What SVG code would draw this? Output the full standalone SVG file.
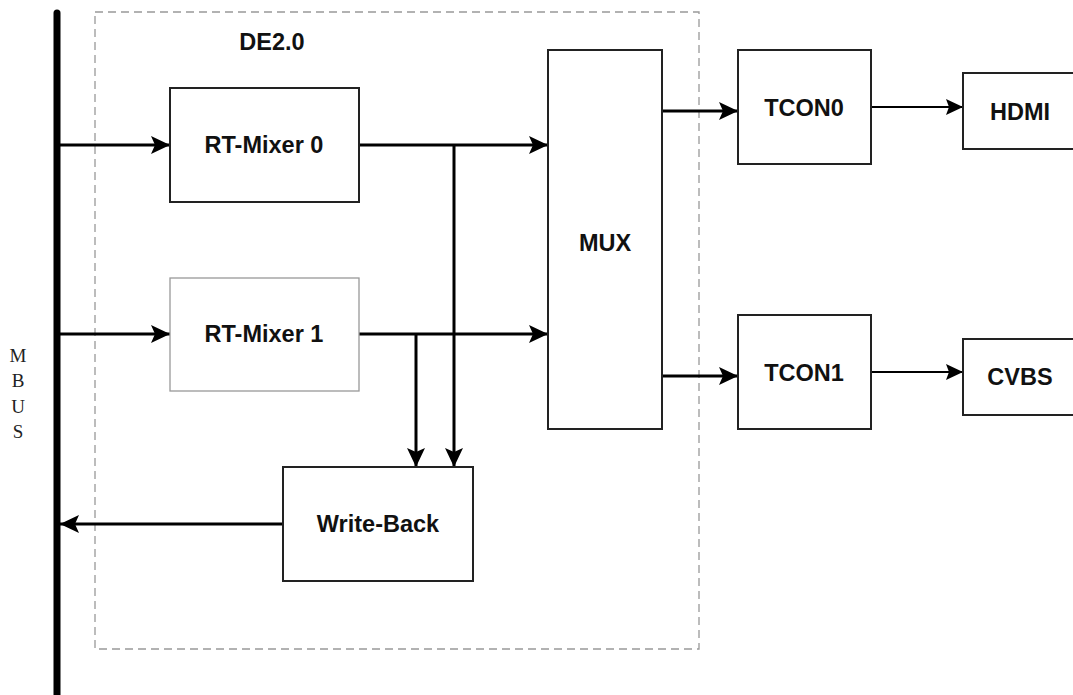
<svg xmlns="http://www.w3.org/2000/svg" width="1073" height="695" viewBox="0 0 1073 695">
<style>
.box{fill:#fff;stroke:#222;stroke-width:2}
.box2{fill:#fff;stroke:#999;stroke-width:1.3}
.lbl{font-family:"Liberation Sans",Arial,sans-serif;font-weight:bold;font-size:23.5px;fill:#111;text-anchor:middle}
.ser{font-family:"Liberation Serif","Times New Roman",serif;font-size:19px;fill:#222;text-anchor:middle}
.ln{fill:none;stroke:#000;stroke-width:3}
.ln2{fill:none;stroke:#000;stroke-width:2}
</style>
<defs>
<marker id="ah" viewBox="0 0 19 18" refX="19" refY="9" markerWidth="19" markerHeight="18" markerUnits="userSpaceOnUse" orient="auto">
<path d="M0,0 L19,9 L0,18 L4,9 Z" fill="#000"/>
</marker>
<marker id="ah2" viewBox="0 0 17 16" refX="17" refY="8" markerWidth="17" markerHeight="16" markerUnits="userSpaceOnUse" orient="auto">
<path d="M0,0 L17,8 L0,16 L3,8 Z" fill="#000"/>
</marker>
</defs>
<rect width="1073" height="695" fill="#fff"/>
<g id="mbus">
<line x1="57" y1="13" x2="57" y2="695" stroke="#000" stroke-width="7" stroke-linecap="round"/>
<text class="ser" x="18" y="362">M</text>
<text class="ser" x="18" y="387">B</text>
<text class="ser" x="18" y="413">U</text>
<text class="ser" x="18" y="438">S</text>
</g>
<g id="de20">
<rect x="95" y="12" width="604" height="637" fill="none" stroke="#999" stroke-width="1.3" stroke-dasharray="8,5"/>
<text class="lbl" x="272" y="50" font-size="22">DE2.0</text>
</g>
<g id="connectors">
<line class="ln" x1="60" y1="145" x2="170" y2="145" marker-end="url(#ah)"/>
<line class="ln" x1="60" y1="334" x2="170" y2="334" marker-end="url(#ah)"/>
<line class="ln" x1="359" y1="145" x2="548" y2="145" marker-end="url(#ah)"/>
<line class="ln" x1="359" y1="334" x2="548" y2="334" marker-end="url(#ah)"/>
<line class="ln" x1="454" y1="145" x2="454" y2="467" marker-end="url(#ah)"/>
<line class="ln" x1="416" y1="334" x2="416" y2="467" marker-end="url(#ah)"/>
<line class="ln" x1="283" y1="524" x2="60" y2="524" marker-end="url(#ah)"/>
<line class="ln" x1="662" y1="111" x2="738" y2="111" marker-end="url(#ah)"/>
<line class="ln" x1="662" y1="376" x2="738" y2="376" marker-end="url(#ah)"/>
<line class="ln2" x1="871" y1="107" x2="963" y2="107" marker-end="url(#ah2)"/>
<line class="ln2" x1="871" y1="372" x2="963" y2="372" marker-end="url(#ah2)"/>
</g>
<g id="rtmixer0">
<rect class="box" x="170" y="88" width="189" height="114"/>
<text class="lbl" x="264" y="153">RT-Mixer 0</text>
</g>
<g id="rtmixer1">
<rect class="box2" x="170" y="278" width="189" height="113"/>
<text class="lbl" x="264" y="342">RT-Mixer 1</text>
</g>
<g id="mux">
<rect class="box" x="548" y="50" width="114" height="379"/>
<text class="lbl" x="605" y="251">MUX</text>
</g>
<g id="writeback">
<rect class="box" x="283" y="467" width="190" height="114"/>
<text class="lbl" x="378" y="532">Write-Back</text>
</g>
<g id="tcon0">
<rect class="box" x="738" y="50" width="133" height="114"/>
<text class="lbl" x="804" y="116">TCON0</text>
</g>
<g id="tcon1">
<rect class="box" x="738" y="315" width="133" height="114"/>
<text class="lbl" x="804" y="381">TCON1</text>
</g>
<g id="hdmi">
<rect class="box" x="963" y="73" width="120" height="76"/>
<text class="lbl" x="1020" y="120">HDMI</text>
</g>
<g id="cvbs">
<rect class="box" x="963" y="339" width="120" height="76"/>
<text class="lbl" x="1020" y="385">CVBS</text>
</g>
</svg>
